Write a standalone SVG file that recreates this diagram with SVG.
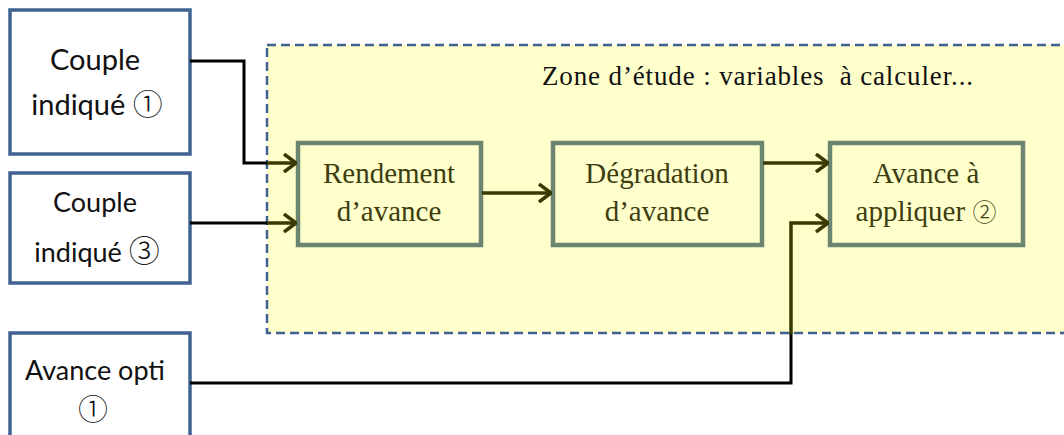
<svg xmlns="http://www.w3.org/2000/svg" width="1064" height="435" viewBox="0 0 1064 435">
<style>
.in{fill:#fff;stroke:#3f6290;stroke-width:3.5}
.blk{fill:#ffffcc;stroke:#6b8571;stroke-width:4.5}
.t1{font-family:Lato,'Open Sans',sans-serif;fill:#111;text-anchor:middle}
.cj{font-family:'Noto Sans CJK JP',sans-serif;font-weight:300}
.t2{font-family:'Liberation Serif',serif;fill:#3d3d10;text-anchor:middle;font-size:29px}
.wire{fill:none;stroke:#000;stroke-width:3}
.ol{fill:none;stroke:#3a3a00;stroke-width:3.5}
</style>
<defs>
<marker id="ah" viewBox="0 0 14 20" refX="13" refY="10" markerWidth="14" markerHeight="20" markerUnits="userSpaceOnUse" orient="auto">
<path d="M1,1 L13,10 L1,19" fill="none" stroke="#3a3a00" stroke-width="3.5"/>
</marker>
</defs>
<rect x="0" y="0" width="1064" height="435" fill="#fff"/>
<g id="zone">
<rect x="267" y="45" width="810" height="288" fill="#ffffcc" stroke="#3f6290" stroke-width="2.5" stroke-dasharray="9,5"/>
<text x="542" y="85" font-family="'Liberation Serif',serif" font-size="27" fill="#111" textLength="431" lengthAdjust="spacing" xml:space="preserve">Zone d’étude : variables  à calculer...</text>
</g>
<g id="couple1">
<rect class="in" x="10" y="10" width="180" height="144"/>
<text class="t1" x="95" y="70" font-size="29">Couple</text>
<text class="t1" x="97" y="115" font-size="29">indiqué <tspan class="cj" font-size="30">①</tspan></text>
</g>
<g id="couple3">
<rect class="in" x="10" y="173" width="180" height="110"/>
<text class="t1" x="95" y="212" font-size="27">Couple</text>
<text class="t1" x="97" y="262" font-size="27">indiqué <tspan class="cj" font-size="31">③</tspan></text>
</g>
<g id="avanceopti">
<rect class="in" x="10" y="333" width="180" height="120"/>
<text class="t1" x="95" y="380" font-size="27">Avance opti</text>
<text class="t1 cj" x="93" y="420" font-size="30">①</text>
</g>
<g id="rendement">
<rect class="blk" x="298" y="143" width="183" height="102"/>
<text class="t2" x="389" y="183">Rendement</text>
<text class="t2" x="389" y="221">d’avance</text>
</g>
<g id="degradation">
<rect class="blk" x="553" y="143" width="209" height="102"/>
<text class="t2" x="657" y="183">Dégradation</text>
<text class="t2" x="657" y="221">d’avance</text>
</g>
<g id="avance">
<rect class="blk" x="830" y="143" width="193" height="102"/>
<text class="t2" x="926" y="183">Avance à</text>
<text class="t2" x="926" y="221">appliquer <tspan class="cj" font-size="24">②</tspan></text>
</g>
<g id="connectors">
<path class="wire" d="M190,61 H244 V163 H268"/>
<line class="ol" x1="267" y1="163" x2="296" y2="163" marker-end="url(#ah)"/>
<path class="wire" d="M190,223 H268"/>
<line class="ol" x1="267" y1="223" x2="296" y2="223" marker-end="url(#ah)"/>
<line class="ol" x1="482" y1="193" x2="551" y2="193" marker-end="url(#ah)"/>
<line class="ol" x1="763" y1="163" x2="828" y2="163" marker-end="url(#ah)"/>
<path class="wire" d="M190,383 H791 V332"/>
<path class="ol" d="M791,334 V223 H828" marker-end="url(#ah)"/>
</g>
</svg>
